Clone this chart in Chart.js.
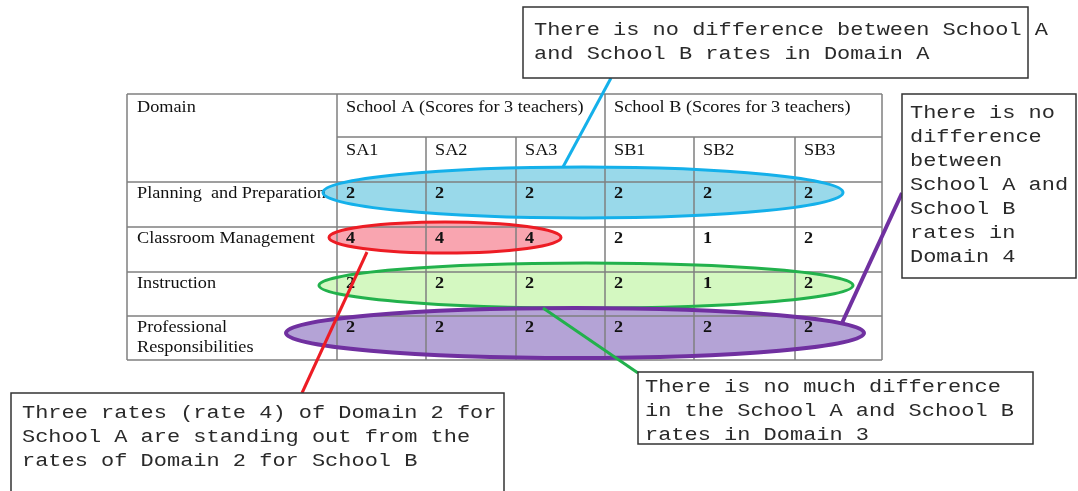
<!DOCTYPE html>
<html>
<head>
<meta charset="utf-8">
<script src="https://cdn.jsdelivr.net/npm/chart.js@4.4.1/dist/chart.umd.min.js"></script>
<style>
  html, body { margin: 0; padding: 0; background: #fff; }
  #wrap { width: 1078px; height: 491px; }
</style>
</head>
<body>
<div id="wrap"><canvas id="scores_chart" width="1078" height="491"></canvas></div>
<script>
const domains = ['Planning  and Preparation', 'Classroom Management', 'Instruction', 'Professional\nResponsibilities']
const schools = ['School A (Scores for 3 teachers)', 'School B (Scores for 3 teachers)']
const teachers = ['SA1', 'SA2', 'SA3', 'SB1', 'SB2', 'SB3']
// one row per domain, one column per teacher
const scores = [
    [2, 2, 2, 2, 2, 2],
    [4, 4, 4, 2, 1, 2],
    [2, 2, 2, 2, 1, 2],
    [2, 2, 2, 2, 2, 2]
]
const notes = [
    ['There is no difference between School A', 'and School B rates in Domain A'],
    ['There is no', 'difference', 'between', 'School A and', 'School B', 'rates in', 'Domain 4'],
    ['Three rates (rate 4) of Domain 2 for', 'School A are standing out from the', 'rates of Domain 2 for School B'],
    ['There is no much difference', 'in the School A and School B', 'rates in Domain 3']
]

// layout of the table, in scale units
const colEdges = [127, 337, 426, 516, 605, 694, 795, 882]
const rowEdges = [94, 137, 182, 227, 272, 316, 360]

const highlights = [
    {row: 0, x0: 323, x1: 843, y0: 167, y1: 218, fill: '#99d9ea', stroke: '#14b0ea', w: 3},
    {row: 1, x0: 329, x1: 561, y0: 222, y1: 253, fill: '#f9a5b0', stroke: '#ed1c24', w: 3},
    {row: 2, x0: 319, x1: 853, y0: 263, y1: 308, fill: '#d4f8c1', stroke: '#22b14c', w: 3},
    {row: 3, x0: 286, x1: 864, y0: 308, y1: 358, fill: '#b4a3d6', stroke: '#7030a0', w: 4}
]
const noteBoxes = [
    {x0: 523, y0: 7, x1: 1028, y1: 78, tx: 534, ty: 35},
    {x0: 902, y0: 94, x1: 1076, y1: 278, tx: 910, ty: 118},
    {x0: 11, y0: 393, x1: 504, y1: 500, tx: 22, ty: 418},
    {x0: 638, y0: 372, x1: 1033, y1: 444, tx: 645, ty: 392}
]
const connectors = [
    {from: [563, 167], to: [611, 78], color: '#14b0ea', w: 3},
    {from: [842, 323], to: [902, 193], color: '#7030a0', w: 4},
    {from: [367, 252], to: [302, 393], color: '#ed1c24', w: 3},
    {from: [543, 308], to: [638, 373], color: '#22b14c', w: 3}
]

const serif = '"Liberation Serif", "Times New Roman", serif'
const mono = '"Liberation Mono", "Courier New", monospace'

function buildScorePoints() {
    const pts = []
    scores.forEach((row, r) => {
        row.forEach((v, c) => {
            pts.push({x: colEdges[c + 1] + 9, y: rowEdges[r + 2] + 16, v: v})
        })
    })
    return pts
}

// the source picture is stretched sideways, so text gets a horizontal scale
function wideText(ctx, text, x, y, sx) {
    ctx.save()
    ctx.translate(x, y)
    ctx.scale(sx, 1)
    ctx.fillText(text, 0, 0)
    ctx.restore()
}

const tablePlugin = {
    id: 'table',
    beforeDatasetsDraw(chart) {
        const ctx = chart.ctx
        const X = v => chart.scales.x.getPixelForValue(v)
        const Y = v => chart.scales.y.getPixelForValue(v)
        ctx.save()

        // ellipse fills
        highlights.forEach(h => {
            ctx.beginPath()
            ctx.ellipse((X(h.x0) + X(h.x1)) / 2, (Y(h.y0) + Y(h.y1)) / 2,
                (X(h.x1) - X(h.x0)) / 2, (Y(h.y1) - Y(h.y0)) / 2, 0, 0, Math.PI * 2)
            ctx.fillStyle = h.fill
            ctx.fill()
        })

        // grid
        ctx.strokeStyle = '#7f7f7f'
        ctx.lineWidth = 1.5
        const line = (x0, y0, x1, y1) => {
            ctx.beginPath()
            ctx.moveTo(X(x0), Y(y0))
            ctx.lineTo(X(x1), Y(y1))
            ctx.stroke()
        }
        const left = colEdges[0], right = colEdges[colEdges.length - 1]
        const top = rowEdges[0], bottom = rowEdges[rowEdges.length - 1]
        line(left, top, right, top)
        line(colEdges[1], rowEdges[1], right, rowEdges[1])
        for (let i = 2; i < rowEdges.length; i++) line(left, rowEdges[i], right, rowEdges[i])
        line(left, top, left, bottom)
        line(colEdges[1], top, colEdges[1], bottom)
        line(colEdges[4], top, colEdges[4], bottom)
        line(right, top, right, bottom)
        ;[2, 3, 5, 6].forEach(i => line(colEdges[i], rowEdges[1], colEdges[i], bottom))

        // header and row labels
        ctx.fillStyle = '#111'
        ctx.font = '16px ' + serif
        ctx.textBaseline = 'alphabetic'
        const sx = 1.14
        wideText(ctx, 'Domain', X(colEdges[0] + 10), Y(top + 18), sx)
        schools.forEach((s, i) => wideText(ctx, s, X(colEdges[1 + i * 3] + 9), Y(top + 18), sx))
        teachers.forEach((t, i) => wideText(ctx, t, X(colEdges[i + 1] + 9), Y(rowEdges[1] + 18), sx))
        domains.forEach((d, r) => {
            d.split('\n').forEach((part, k) => {
                wideText(ctx, part, X(colEdges[0] + 10), Y(rowEdges[r + 2] + 16 + k * 20), sx)
            })
        })
        ctx.restore()
    },
    afterDatasetsDraw(chart) {
        const ctx = chart.ctx
        const X = v => chart.scales.x.getPixelForValue(v)
        const Y = v => chart.scales.y.getPixelForValue(v)
        ctx.save()

        // score values at the dataset's own points
        const meta = chart.getDatasetMeta(0)
        ctx.font = 'bold 16px ' + serif
        ctx.fillStyle = '#111'
        ctx.textBaseline = 'alphabetic'
        meta.data.forEach((el, i) => {
            wideText(ctx, String(chart.data.datasets[0].data[i].v), el.x, el.y, 1.14)
        })

        // ellipse outlines
        highlights.forEach(h => {
            ctx.beginPath()
            ctx.ellipse((X(h.x0) + X(h.x1)) / 2, (Y(h.y0) + Y(h.y1)) / 2,
                (X(h.x1) - X(h.x0)) / 2, (Y(h.y1) - Y(h.y0)) / 2, 0, 0, Math.PI * 2)
            ctx.strokeStyle = h.stroke
            ctx.lineWidth = h.w
            ctx.stroke()
        })

        connectors.forEach(c => {
            ctx.beginPath()
            ctx.moveTo(X(c.from[0]), Y(c.from[1]))
            ctx.lineTo(X(c.to[0]), Y(c.to[1]))
            ctx.strokeStyle = c.color
            ctx.lineWidth = c.w
            ctx.stroke()
        })

        // note boxes
        ctx.font = '18px ' + mono
        noteBoxes.forEach((b, i) => {
            ctx.fillStyle = '#fff'
            ctx.fillRect(X(b.x0), Y(b.y0), X(b.x1) - X(b.x0), Y(b.y1) - Y(b.y0))
            ctx.strokeStyle = '#333'
            ctx.lineWidth = 1.5
            ctx.strokeRect(X(b.x0), Y(b.y0), X(b.x1) - X(b.x0), Y(b.y1) - Y(b.y0))
            ctx.fillStyle = '#2a2a2a'
            notes[i].forEach((ln, k) => wideText(ctx, ln, X(b.tx), Y(b.ty + k * 24), 1.22))
        })
        ctx.restore()
    }
}

new Chart(document.getElementById('scores_chart'), {
    type: 'scatter',
    data: {
        datasets: [{
            label: 'Scores',
            data: buildScorePoints(),
            pointRadius: 0,
            pointHoverRadius: 0
        }]
    },
    options: {
        responsive: false,
        animation: false,
        layout: {padding: 0},
        plugins: {legend: {display: false}, tooltip: {enabled: false}},
        scales: {
            x: {type: 'linear', min: 0, max: 1078, display: false},
            y: {type: 'linear', min: 0, max: 491, reverse: true, display: false}
        }
    },
    plugins: [tablePlugin]
})
</script>
</body>
</html>
